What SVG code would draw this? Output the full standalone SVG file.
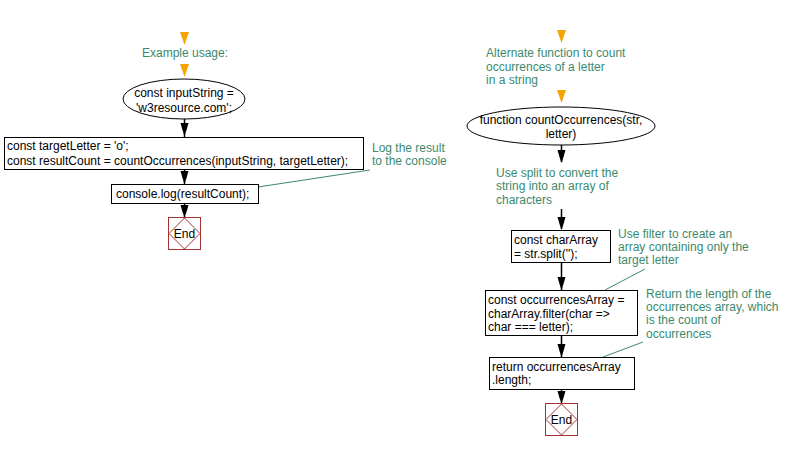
<svg xmlns="http://www.w3.org/2000/svg" width="794" height="450" viewBox="0 0 794 450">
<style>
text{font-family:"Liberation Sans",Arial,sans-serif;font-size:12px;fill:#000}
.n{fill:#fff;stroke:#000;stroke-width:1}
.c{fill:none;stroke:#000;stroke-width:1.5}
.a{fill:none;stroke:#3b8a6c;stroke-width:1}
.g{fill:#3b8a6c}
.end{fill:#fff;stroke:#a33333;stroke-width:1}
.o{fill:#f5a300}
.h{fill:#000}
</style>
<rect width="794" height="450" fill="#fff"/>
<g id="orange">
<path class="o" d="M180,32 L189,32 L186.5,39 L184.5,45 L182.5,39 Z"/>
<path class="o" d="M180,64 L189,64 L186.5,71 L184.5,77 L182.5,71 Z"/>
<path class="o" d="M557,30 L566,30 L563.5,37 L561.5,43 L559.5,37 Z"/>
<path class="o" d="M557,90 L566,90 L563.5,97 L561.5,103 L559.5,97 Z"/>
</g>
<g id="connectors">
<line class="c" x1="184.5" y1="119" x2="184.5" y2="137"/>
<path class="h" d="M180.5,123 L188.5,123 L186.5,130 L184.5,136 L182.5,130 Z"/>
<line class="c" x1="184.5" y1="169" x2="184.5" y2="184"/>
<path class="h" d="M180.5,171 L188.5,171 L186.5,178 L184.5,184 L182.5,178 Z"/>
<line class="c" x1="184.5" y1="203" x2="184.5" y2="217"/>
<path class="h" d="M180.5,205 L188.5,205 L186.5,212 L184.5,217 L182.5,212 Z"/>
<line class="c" x1="561.5" y1="145" x2="561.5" y2="162"/>
<path class="h" d="M557.5,150 L565.5,150 L563.5,157 L561.5,163 L559.5,157 Z"/>
<line class="c" x1="561.5" y1="209" x2="561.5" y2="229"/>
<path class="h" d="M557.5,217 L565.5,217 L563.5,224 L561.5,230 L559.5,224 Z"/>
<line class="c" x1="561.5" y1="262" x2="561.5" y2="290"/>
<path class="h" d="M557.5,277 L565.5,277 L563.5,284 L561.5,290 L559.5,284 Z"/>
<line class="c" x1="561.5" y1="335" x2="561.5" y2="357"/>
<path class="h" d="M557.5,344 L565.5,344 L563.5,351 L561.5,357 L559.5,351 Z"/>
<line class="c" x1="561.5" y1="389" x2="561.5" y2="403"/>
<path class="h" d="M557.5,391 L565.5,391 L563.5,398 L561.5,403 L559.5,398 Z"/>
<line class="a" x1="258" y1="187" x2="370" y2="170"/>
<line class="a" x1="645" y1="269" x2="605" y2="290"/>
<line class="a" x1="643" y1="342" x2="603" y2="357"/>
</g>
<g id="label-example">
<text class="g" x="185" y="57" text-anchor="middle">Example usage:</text>
</g>
<g id="input-string">
<ellipse class="n" cx="184" cy="99" rx="61" ry="20"/>
<text x="184" y="97" text-anchor="middle">const inputString =</text>
<text x="184" y="112" text-anchor="middle">'w3resource.com';</text>
</g>
<g id="target-letter">
<rect class="n" x="4.5" y="137.5" width="359" height="32"/>
<text x="7" y="150">const targetLetter = 'o';</text>
<text x="7" y="165">const resultCount = countOccurrences(inputString, targetLetter);</text>
</g>
<g id="console-log">
<rect class="n" x="111.5" y="184.5" width="147" height="19"/>
<text x="116" y="198">console.log(resultCount);</text>
</g>
<g id="note-log">
<text class="g" x="372" y="152">Log the result</text>
<text class="g" x="372" y="165">to the console</text>
</g>
<g id="end-left">
<rect class="end" x="168.5" y="217.5" width="32" height="32"/>
<path class="end" d="M184.5,218 L200,233.5 L184.5,249 L169,233.5 Z"/>
<text x="184.5" y="238" text-anchor="middle">End</text>
</g>
<g id="label-alternate">
<text class="g" x="486" y="57">Alternate function to count</text>
<text class="g" x="486" y="71">occurrences of a letter</text>
<text class="g" x="486" y="84">in a string</text>
</g>
<g id="function-def">
<ellipse class="n" cx="561" cy="126" rx="94" ry="19"/>
<text x="561" y="124" text-anchor="middle">function countOccurrences(str,</text>
<text x="561" y="138" text-anchor="middle">letter)</text>
</g>
<g id="note-split">
<text class="g" x="496" y="177">Use split to convert the</text>
<text class="g" x="496" y="190">string into an array of</text>
<text class="g" x="496" y="204">characters</text>
</g>
<g id="char-array">
<rect class="n" x="511.5" y="230.5" width="99" height="32"/>
<text x="514" y="244">const charArray</text>
<text x="514" y="258">= str.split('');</text>
</g>
<g id="note-filter">
<text class="g" x="618" y="238">Use filter to create an</text>
<text class="g" x="618" y="251">array containing only the</text>
<text class="g" x="618" y="264">target letter</text>
</g>
<g id="occurrences-array">
<rect class="n" x="485.5" y="290.5" width="152" height="45"/>
<text x="488" y="304">const occurrencesArray =</text>
<text x="488" y="318">charArray.filter(char =&gt;</text>
<text x="488" y="331">char === letter);</text>
</g>
<g id="note-return">
<text class="g" x="646" y="298">Return the length of the</text>
<text class="g" x="646" y="311">occurrences array, which</text>
<text class="g" x="646" y="324">is the count of</text>
<text class="g" x="646" y="338">occurrences</text>
</g>
<g id="return-length">
<rect class="n" x="489.5" y="357.5" width="145" height="32"/>
<text x="492" y="371">return occurrencesArray</text>
<text x="492" y="384">.length;</text>
</g>
<g id="end-right">
<rect class="end" x="545.5" y="403.5" width="32" height="32"/>
<path class="end" d="M561.5,404 L577,419.5 L561.5,435 L546,419.5 Z"/>
<text x="561.5" y="424" text-anchor="middle">End</text>
</g>
</svg>
